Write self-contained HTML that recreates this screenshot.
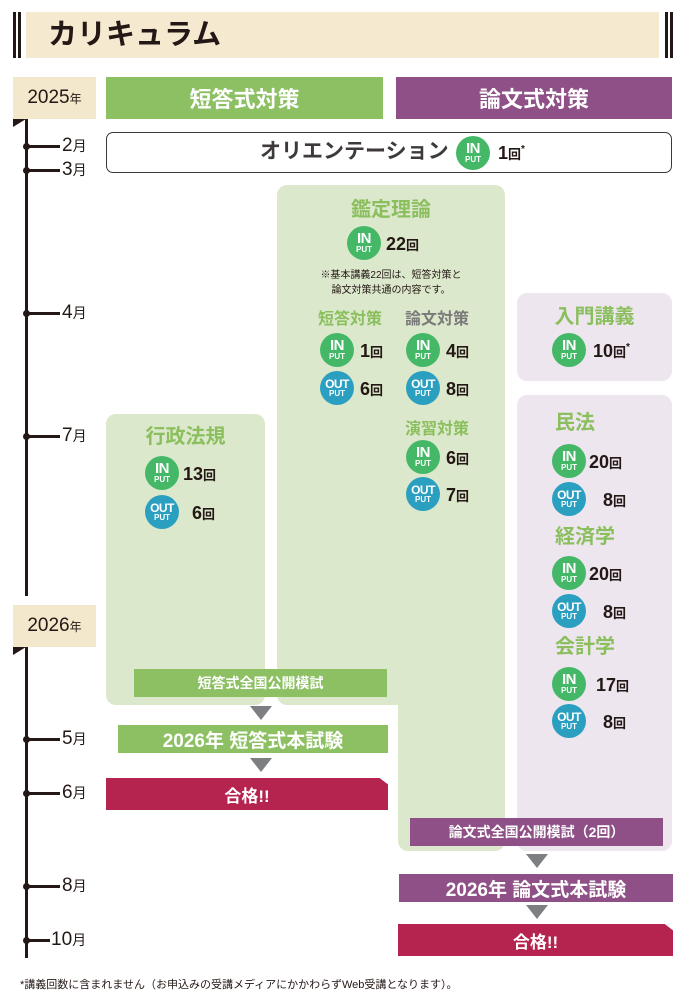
<!DOCTYPE html>
<html><head><meta charset="utf-8"><style>
*{margin:0;padding:0;box-sizing:border-box}
body{width:690px;height:1005px;background:#fff;position:relative;overflow:hidden;font-family:"Liberation Sans","Noto Sans CJK JP",sans-serif;color:#231815}
.a{position:absolute}
.bar{position:absolute;color:#fff;font-weight:bold;text-align:center;display:flex;align-items:center;justify-content:center}
.b{position:absolute;width:34px;height:34px;border-radius:50%;color:#fff;font-weight:bold;text-align:center;line-height:1}
.b .t{display:block;font-size:15px;margin-top:5px;letter-spacing:-0.5px}
.b .p{display:block;font-size:8px;margin-top:0px}
.in{background:#45b868}
.out{background:#2a9fc0}
.out .t{font-size:12px;margin-top:7px;letter-spacing:-0.5px}
.n{position:absolute;font-weight:bold;font-size:18px;line-height:1;margin-top:-1px}
.n small{font-size:13px}
.ttl{position:absolute;font-weight:bold;font-size:20px;color:#8bbf5e;text-align:center;line-height:1}
.tick{position:absolute;left:26px;width:34px;height:3px;background:#231815}
.dot{position:absolute;left:23px;width:7px;height:7px;border-radius:50%;background:#231815}
.m{position:absolute;font-size:19px;line-height:1;margin-top:-2px}
.m small{font-size:14px}
.tri{position:absolute;width:0;height:0;border-left:11px solid transparent;border-right:11px solid transparent;border-top:14px solid #7d7f82}
</style></head><body>
<!-- header -->
<div class="a" style="left:13px;top:12px;width:3px;height:46px;background:#231815"></div>
<div class="a" style="left:18px;top:12px;width:3px;height:46px;background:#231815"></div>
<div class="a" style="left:26px;top:12px;width:633px;height:46px;background:#f5ead0"></div>
<div class="a" style="left:665px;top:12px;width:3px;height:46px;background:#231815"></div>
<div class="a" style="left:670px;top:12px;width:3px;height:46px;background:#231815"></div>
<div class="a" style="left:48px;top:18px;font-size:29px;font-weight:bold;line-height:34px">カリキュラム</div>

<!-- years -->
<div class="a" style="left:13px;top:77px;width:83px;height:42px;background:#f3e8cc;font-size:19px;line-height:42px;text-align:center">2025<small style="font-size:12px">年</small></div>
<div class="a" style="left:13px;top:605px;width:83px;height:42px;background:#f3e8cc;font-size:19px;line-height:42px;text-align:center">2026<small style="font-size:12px">年</small></div>
<div class="a" style="left:13px;top:119px;width:0;height:0;border-left:13px solid #231815;border-bottom:8px solid transparent"></div>
<div class="a" style="left:13px;top:647px;width:0;height:0;border-left:13px solid #231815;border-bottom:8px solid transparent"></div>
<div class="a" style="left:25px;top:119px;width:3px;height:477px;background:#231815"></div>
<div class="a" style="left:25px;top:647px;width:3px;height:311px;background:#231815"></div>

<div class="tick" style="top:145px"></div><div class="dot" style="top:143px"></div><div class="m" style="left:62px;top:138px">2<small>月</small></div>
<div class="tick" style="top:169px"></div><div class="dot" style="top:167px"></div><div class="m" style="left:62px;top:162px">3<small>月</small></div>
<div class="tick" style="top:312px"></div><div class="dot" style="top:310px"></div><div class="m" style="left:62px;top:305px">4<small>月</small></div>
<div class="tick" style="top:435px"></div><div class="dot" style="top:433px"></div><div class="m" style="left:62px;top:428px">7<small>月</small></div>
<div class="tick" style="top:738px"></div><div class="dot" style="top:736px"></div><div class="m" style="left:62px;top:731px">5<small>月</small></div>
<div class="tick" style="top:792px"></div><div class="dot" style="top:790px"></div><div class="m" style="left:62px;top:785px">6<small>月</small></div>
<div class="tick" style="top:885px"></div><div class="dot" style="top:883px"></div><div class="m" style="left:62px;top:878px">8<small>月</small></div>
<div class="tick" style="top:939px;width:24px"></div><div class="dot" style="top:937px"></div><div class="m" style="left:51px;top:932px">10<small>月</small></div>

<!-- headers -->
<div class="bar" style="left:106px;top:77px;width:277px;height:42px;background:#8cc063;font-size:22px">短答式対策</div>
<div class="bar" style="left:396px;top:77px;width:276px;height:42px;background:#8e5087;font-size:22px">論文式対策</div>

<!-- orientation -->
<div class="a" style="left:106px;top:132px;width:566px;height:41px;border:1.5px solid #3a3a3a;border-radius:7px"></div>
<div class="a" style="left:260px;top:140px;font-size:21px;font-weight:bold;color:#3e3a39;line-height:24px">オリエンテーション</div>
<div class="b in" style="left:456px;top:136px"><span class="t">IN</span><span class="p">PUT</span></div>
<div class="n" style="left:498px;top:145px">1<small>回</small><sup style="font-size:10px">*</sup></div>

<!-- boxes -->
<div class="a" style="left:106px;top:414px;width:159px;height:291px;background:#dce8cc;border-radius:10px"></div>
<div class="a" style="left:277px;top:185px;width:228px;height:520px;background:#dce8cc;border-radius:10px"></div>
<div class="a" style="left:398px;top:680px;width:107px;height:171px;background:#dce8cc;border-radius:0 0 10px 10px"></div>
<div class="a" style="left:517px;top:293px;width:155px;height:88px;background:#ede6ee;border-radius:10px"></div>
<div class="a" style="left:517px;top:395px;width:155px;height:456px;background:#ede6ee;border-radius:10px"></div>

<!-- 鑑定理論 -->
<div class="ttl" style="left:277px;top:200px;width:228px">鑑定理論</div>
<div class="b in" style="left:347px;top:226px"><span class="t">IN</span><span class="p">PUT</span></div>
<div class="n" style="left:386px;top:236px">22<small>回</small></div>
<div class="a" style="left:277px;top:268px;width:228px;text-align:center;font-size:10px;line-height:15px">※基本講義22回は、短答対策と<br>論文対策共通の内容です。</div>
<div class="ttl" style="left:310px;top:312px;width:80px;font-size:16px">短答対策</div>
<div class="ttl" style="left:397px;top:312px;width:80px;font-size:16px;color:#7a7a7a">論文対策</div>
<div class="b in" style="left:320px;top:333px"><span class="t">IN</span><span class="p">PUT</span></div>
<div class="n" style="left:360px;top:343px">1<small>回</small></div>
<div class="b out" style="left:320px;top:371px"><span class="t">OUT</span><span class="p">PUT</span></div>
<div class="n" style="left:360px;top:381px">6<small>回</small></div>
<div class="b in" style="left:406px;top:333px"><span class="t">IN</span><span class="p">PUT</span></div>
<div class="n" style="left:446px;top:343px">4<small>回</small></div>
<div class="b out" style="left:406px;top:371px"><span class="t">OUT</span><span class="p">PUT</span></div>
<div class="n" style="left:446px;top:381px">8<small>回</small></div>
<div class="ttl" style="left:397px;top:422px;width:80px;font-size:16px">演習対策</div>
<div class="b in" style="left:406px;top:440px"><span class="t">IN</span><span class="p">PUT</span></div>
<div class="n" style="left:446px;top:450px">6<small>回</small></div>
<div class="b out" style="left:406px;top:477px"><span class="t">OUT</span><span class="p">PUT</span></div>
<div class="n" style="left:446px;top:487px">7<small>回</small></div>

<!-- 行政法規 -->
<div class="ttl" style="left:106px;top:427px;width:159px">行政法規</div>
<div class="b in" style="left:145px;top:456px"><span class="t">IN</span><span class="p">PUT</span></div>
<div class="n" style="left:183px;top:466px">13<small>回</small></div>
<div class="b out" style="left:145px;top:495px"><span class="t">OUT</span><span class="p">PUT</span></div>
<div class="n" style="left:192px;top:505px">6<small>回</small></div>

<!-- 入門講義 -->
<div class="ttl" style="left:517px;top:307px;width:155px">入門講義</div>
<div class="b in" style="left:552px;top:333px"><span class="t">IN</span><span class="p">PUT</span></div>
<div class="n" style="left:593px;top:343px">10<small>回</small><sup style="font-size:10px">*</sup></div>

<!-- 民法 etc -->
<div class="ttl" style="left:555px;top:413px">民法</div>
<div class="b in" style="left:552px;top:444px"><span class="t">IN</span><span class="p">PUT</span></div>
<div class="n" style="left:589px;top:454px">20<small>回</small></div>
<div class="b out" style="left:552px;top:482px"><span class="t">OUT</span><span class="p">PUT</span></div>
<div class="n" style="left:603px;top:492px">8<small>回</small></div>
<div class="ttl" style="left:555px;top:527px">経済学</div>
<div class="b in" style="left:552px;top:556px"><span class="t">IN</span><span class="p">PUT</span></div>
<div class="n" style="left:589px;top:566px">20<small>回</small></div>
<div class="b out" style="left:552px;top:594px"><span class="t">OUT</span><span class="p">PUT</span></div>
<div class="n" style="left:603px;top:604px">8<small>回</small></div>
<div class="ttl" style="left:555px;top:637px">会計学</div>
<div class="b in" style="left:552px;top:667px"><span class="t">IN</span><span class="p">PUT</span></div>
<div class="n" style="left:596px;top:677px">17<small>回</small></div>
<div class="b out" style="left:552px;top:704px"><span class="t">OUT</span><span class="p">PUT</span></div>
<div class="n" style="left:603px;top:714px">8<small>回</small></div>

<!-- short answer flow -->
<div class="bar" style="left:134px;top:669px;width:253px;height:28px;background:#8cc063;font-size:14px">短答式全国公開模試</div>
<div class="tri" style="left:250px;top:706px"></div>
<div class="bar" style="left:118px;top:725px;width:270px;height:28px;background:#8cc063;font-size:19px">2026年 短答式本試験</div>
<div class="tri" style="left:250px;top:758px"></div>
<div class="bar" style="left:106px;top:778px;width:282px;height:32px;background:#b5234f;font-size:17px;clip-path:polygon(0 0,97% 0,100% 20%,100% 100%,0 100%)">合格!!</div>

<!-- essay flow -->
<div class="bar" style="left:410px;top:818px;width:253px;height:28px;background:#8e5087;font-size:14px">論文式全国公開模試（2回）</div>
<div class="tri" style="left:526px;top:854px"></div>
<div class="bar" style="left:399px;top:874px;width:274px;height:28px;background:#8e5087;font-size:19px">2026年 論文式本試験</div>
<div class="tri" style="left:526px;top:905px"></div>
<div class="bar" style="left:398px;top:924px;width:275px;height:32px;background:#b5234f;font-size:17px;clip-path:polygon(0 0,97% 0,100% 20%,100% 100%,0 100%)">合格!!</div>

<div class="a" style="left:20px;top:978px;font-size:11px;line-height:14px">*講義回数に含まれません（お申込みの受講メディアにかかわらずWeb受講となります）。</div>
</body></html>
